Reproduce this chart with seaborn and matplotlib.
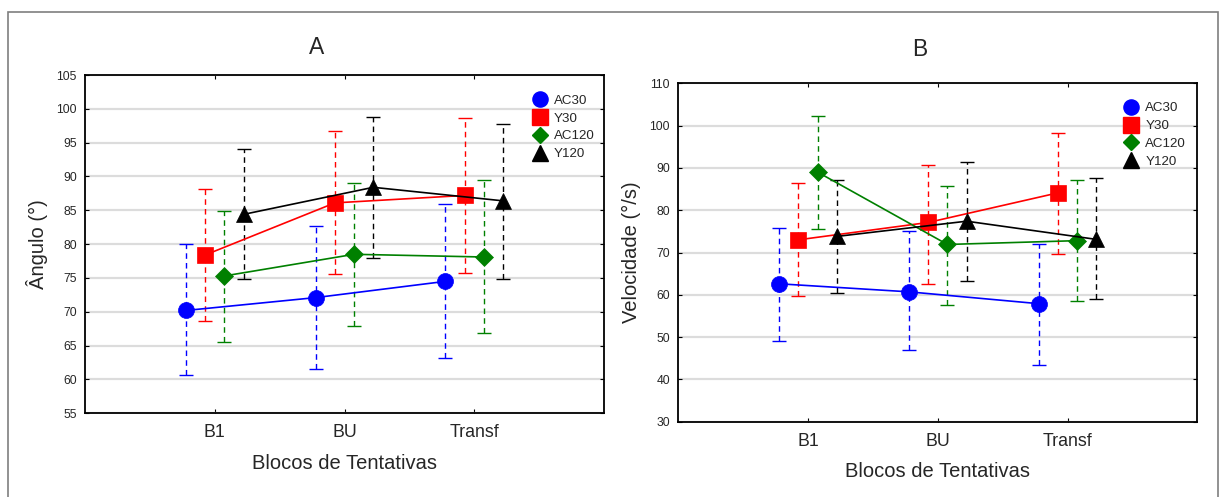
import numpy as np
import pandas as pd
import matplotlib
matplotlib.use("Agg")
import matplotlib.pyplot as plt
from matplotlib.lines import Line2D
from matplotlib.patches import Rectangle
import seaborn as sns

# ---------------- data ----------------
categories = ["B1", "BU", "Transf"]
series_names = ["AC30", "Y30", "AC120", "Y120"]

# Panel A: Ângulo (°)
angle_mean = {
    "AC30": [70.2, 72.1, 74.5],
    "Y30": [78.4, 86.1, 87.2],
    "AC120": [75.3, 78.5, 78.1],
    "Y120": [84.4, 88.4, 86.4],
}
angle_low = {
    "AC30": [60.6, 61.6, 63.1],
    "Y30": [68.7, 75.6, 75.7],
    "AC120": [65.5, 67.9, 66.8],
    "Y120": [74.8, 77.9, 74.9],
}
angle_high = {
    "AC30": [80.0, 82.7, 86.0],
    "Y30": [88.1, 96.7, 98.6],
    "AC120": [84.9, 89.0, 89.5],
    "Y120": [94.1, 98.8, 97.7],
}

# Panel B: Velocidade (°/s)
vel_mean = {
    "AC30": [62.6, 60.7, 57.9],
    "Y30": [73.0, 77.1, 84.1],
    "AC120": [89.0, 71.9, 72.8],
    "Y120": [73.8, 77.4, 73.1],
}
vel_low = {
    "AC30": [49.1, 46.9, 43.5],
    "Y30": [59.8, 62.6, 69.7],
    "AC120": [75.6, 57.7, 58.5],
    "Y120": [60.4, 63.3, 58.9],
}
vel_high = {
    "AC30": [75.8, 75.0, 72.1],
    "Y30": [86.5, 90.7, 98.3],
    "AC120": [102.3, 85.7, 87.1],
    "Y120": [87.1, 91.4, 87.5],
}

# ---------------- style ----------------
colors = {"AC30": "#0000ff", "Y30": "#ff0000", "AC120": "#008000", "Y120": "#000000"}
markers = {"AC30": "o", "Y30": "s", "AC120": "D", "Y120": "^"}
msizes = {"AC30": 11.5, "Y30": 11.5, "AC120": 9, "Y120": 11.5}
offsets = {"AC30": -0.222, "Y30": -0.074, "AC120": 0.074, "Y120": 0.222}

sns.set_style("white")
plt.rcParams["font.family"] = ["Liberation Sans", "DejaVu Sans"]

fig = plt.figure(figsize=(12.22, 4.97), dpi=100)

# outer frame
fig.patches.append(Rectangle((8 / 1222, -0.02), 1210 / 1222, 1 - 11.5 / 497 + 0.02,
                             transform=fig.transFigure, fill=False,
                             edgecolor="#7f7f7f", linewidth=1.2))

axA = fig.add_axes([85 / 1222, 1 - 413.3 / 497, 519 / 1222, 338.3 / 497])
axB = fig.add_axes([678.3 / 1222, 1 - 421.7 / 497, 519 / 1222, 338.4 / 497])


def draw_panel(ax, mean, low, high, ylim, yticks, ylabel, leg_anchor):
    x_idx = np.arange(len(categories))
    for name in series_names:
        m = np.array(mean[name])
        lo = np.array(low[name])
        hi = np.array(high[name])
        xpos = x_idx + offsets[name]
        df = pd.DataFrame({"x": xpos, "y": m})
        sns.lineplot(data=df, x="x", y="y", ax=ax, color=colors[name], linewidth=1.2,
                     marker=markers[name], markersize=msizes[name],
                     markeredgecolor=colors[name], markeredgewidth=0.5,
                     sort=False, zorder=4)
        eb = ax.errorbar(xpos, m, yerr=[m - lo, hi - m], fmt="none",
                         ecolor=colors[name], elinewidth=1.0, capsize=5,
                         capthick=1.0, zorder=3)
        for lc in eb[2]:
            lc.set_linestyle((0, (4, 3)))
    ax.set_xlim(-1, 3)
    ax.set_xticks(x_idx)
    ax.set_xticklabels(categories, fontsize=12.8)
    ax.set_ylim(*ylim)
    ax.set_yticks(yticks)
    ax.set_yticklabels([str(t) for t in yticks], fontsize=8.7)
    ax.yaxis.grid(True, color="#dcdcdc", linewidth=1.6)
    ax.xaxis.grid(False)
    ax.set_axisbelow(True)
    ax.tick_params(axis="x", direction="in", length=3, top=True, bottom=True,
                   pad=8, color="black")
    ax.tick_params(axis="y", direction="in", length=3, left=True, right=True,
                   pad=6, color="black")
    for sp in ax.spines.values():
        sp.set_color("black")
        sp.set_linewidth(1.3)
    ax.set_xlabel("Blocos de Tentativas", fontsize=14.5, labelpad=9)
    ax.set_ylabel(ylabel, fontsize=14.5, labelpad=6)
    handles = [Line2D([0], [0], linestyle="none", marker=markers[n],
                      markersize=msizes[n] * 0.95, color=colors[n],
                      markeredgecolor=colors[n]) for n in series_names]
    leg = ax.legend(handles, series_names, loc="upper left", bbox_to_anchor=leg_anchor,
                    frameon=False, fontsize=9.6, handlelength=1.0, handletextpad=0.55,
                    labelspacing=0.42, borderpad=0, borderaxespad=0)
    return leg


draw_panel(axA, angle_mean, angle_low, angle_high, (55, 105), list(range(55, 106, 5)),
           "Ângulo (°)", (0.864, 0.943))
draw_panel(axB, vel_mean, vel_low, vel_high, (30, 110), list(range(30, 111, 10)),
           "Velocidade (°/s)", (0.860, 0.945))

fig.text(317 / 1222, 1 - 48 / 497, "A", fontsize=16.5, ha="center", va="center")
fig.text(919.5 / 1222, 1 - 50 / 497, "B", fontsize=16.5, ha="center", va="center")

fig.savefig("out.png", dpi=100)
